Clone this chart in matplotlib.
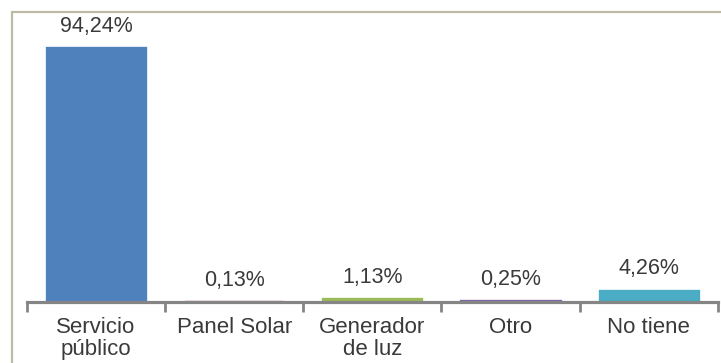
import numpy as np
import matplotlib.pyplot as plt
from matplotlib.patches import Rectangle

categorias = ["Servicio\npúblico", "Panel Solar", "Generador\nde luz", "Otro", "No tiene"]
porcentajes = [94.24, 0.13, 1.13, 0.25, 4.26]
etiquetas = ["94,24%", "0,13%", "1,13%", "0,25%", "4,26%"]
colores = ["#4F81BD", "#C0504D", "#9BBB59", "#8064A2", "#4BACC6"]

plt.rcParams['font.family'] = ['Liberation Sans', 'DejaVu Sans']
texto = "#3a3a3a"

fig = plt.figure(figsize=(7.21, 3.63), dpi=100)
ax = fig.add_axes([0.0374, 0.168, 0.958, 0.742])

x = np.arange(len(categorias))
ax.bar(x, porcentajes, width=0.71, color=colores, edgecolor=colores,
       linewidth=2.4, zorder=2)

for xi, v, et in zip(x, porcentajes, etiquetas):
    ax.annotate(et, (xi, v), xytext=(0, 8), textcoords='offset points',
                ha='center', va='bottom', fontsize=15.5, color=texto,
                annotation_clip=False)

ax.set_xlim(-0.5, len(categorias) - 0.5)
ax.set_ylim(0, 100)

# ticks en los limites de cada categoria, etiquetas centradas
ax.set_xticks(np.arange(len(categorias) + 1) - 0.5)
ax.set_xticklabels([])
ax.set_xticks(x, minor=True)
ax.set_xticklabels(categorias, minor=True, fontsize=16, color=texto,
                   linespacing=1.05)
ax.tick_params(axis='x', which='major', length=7, width=2, color="#858585",
               direction='out')
ax.tick_params(axis='x', which='minor', length=0, pad=11)
ax.set_yticks([])

for s in ['left', 'top', 'right']:
    ax.spines[s].set_visible(False)
ax.spines['bottom'].set_color("#858585")
ax.spines['bottom'].set_linewidth(2.3)
ax.spines['bottom'].set_zorder(3)

# marco exterior del grafico
fig.add_artist(Rectangle((11.5 / 721, -0.05), 1.05, 1 - 11.5 / 363 + 0.05,
                         transform=fig.transFigure, fill=False,
                         edgecolor="#BDBAA5", linewidth=1.6))

fig.savefig("out.png", dpi=100)
